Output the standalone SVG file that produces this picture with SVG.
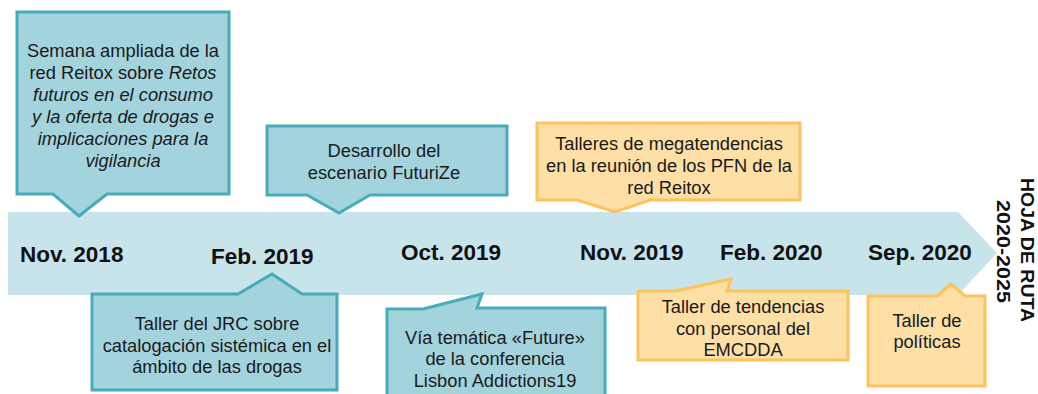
<svg xmlns="http://www.w3.org/2000/svg" width="1038" height="394" viewBox="0 0 1038 394">
<style>
.teal{fill:#A3D4DD;stroke:#47ACB9;stroke-width:3;stroke-linejoin:miter}
.orange{fill:#FEDFA6;stroke:#FDC35C;stroke-width:3;stroke-linejoin:miter}
.t{font-family:"Liberation Sans",Arial,sans-serif;font-size:18.3px;fill:#1a1a1a;text-anchor:middle}
.date{font-family:"Liberation Sans",Arial,sans-serif;font-size:22.5px;font-weight:bold;fill:#111}
.vert{font-family:"Liberation Sans",Arial,sans-serif;font-size:19px;font-weight:bold;fill:#111;text-anchor:middle}
</style>
<rect width="1038" height="394" fill="#ffffff"/>
<g id="timeline">
<path d="M8,212 H958 L997,253 L958,295 H8 Z" fill="#C6E4EA"/>
<text class="date" x="20" y="261.5">Nov. 2018</text>
<text class="date" x="211" y="263.5">Feb. 2019</text>
<text class="date" x="401" y="260">Oct. 2019</text>
<text class="date" x="580" y="260">Nov. 2019</text>
<text class="date" x="720" y="260">Feb. 2020</text>
<text class="date" x="868" y="260">Sep. 2020</text>
</g>
<g id="connectors"></g>
<g id="n1">
<path class="teal" d="M17,12 H229 V194 H107 L79,216 L53,194 H17 Z"/>
<text class="t" x="123" y="57">Semana ampliada de la</text>
<text class="t" x="123" y="79">red Reitox sobre <tspan font-style="italic">Retos</tspan></text>
<text class="t" x="123" y="101" font-style="italic">futuros en el consumo</text>
<text class="t" x="123" y="123" font-style="italic">y la oferta de drogas e</text>
<text class="t" x="123" y="145" font-style="italic">implicaciones para la</text>
<text class="t" x="123" y="167" font-style="italic">vigilancia</text>
</g>
<g id="n2">
<path class="teal" d="M267,126 H507 V195 H370 L339,213 L307,195 H267 Z"/>
<text class="t" x="384" y="157">Desarrollo del</text>
<text class="t" x="384" y="179">escenario FuturiZe</text>
</g>
<g id="n3">
<path class="orange" d="M537,123 H800 V200 H650 L615,212 L577,200 H537 Z"/>
<text class="t" x="669" y="150">Talleres de megatendencias</text>
<text class="t" x="669" y="172">en la reunión de los PFN de la</text>
<text class="t" x="669" y="194">red Reitox</text>
</g>
<g id="n4">
<path class="teal" d="M92,294 H238 L272,274 L302,294 H337 V390 H92 Z"/>
<text class="t" x="217" y="330">Taller del JRC sobre</text>
<text class="t" x="217" y="352">catalogación sistémica en el</text>
<text class="t" x="217" y="373">ámbito de las drogas</text>
</g>
<g id="n5">
<path class="teal" d="M387,309 H423 L482,294 L477,308 H605 V400 H387 Z"/>
<text class="t" x="495" y="343.5">Vía temática «Future»</text>
<text class="t" x="495" y="365">de la conferencia</text>
<text class="t" x="495" y="386.5">Lisbon Addictions19</text>
</g>
<g id="n6">
<path class="orange" d="M638,291 H675 L731,279 L727,291 H848 V360 H638 Z"/>
<text class="t" x="743" y="313">Taller de tendencias</text>
<text class="t" x="743" y="335">con personal del</text>
<text class="t" x="743" y="356">EMCDDA</text>
</g>
<g id="n7">
<path class="orange" d="M868,296 H937 L951,284 L965,296 H985 V386 H868 Z"/>
<text class="t" x="927" y="327">Taller de</text>
<text class="t" x="927" y="348">políticas</text>
</g>
<g id="label">
<text class="vert" transform="translate(1021,250) rotate(90)" x="0" y="0" textLength="144" lengthAdjust="spacingAndGlyphs">HOJA DE RUTA</text>
<text class="vert" transform="translate(997,251.5) rotate(90)" x="0" y="0" textLength="103" lengthAdjust="spacingAndGlyphs">2020-2025</text>
</g>
</svg>
